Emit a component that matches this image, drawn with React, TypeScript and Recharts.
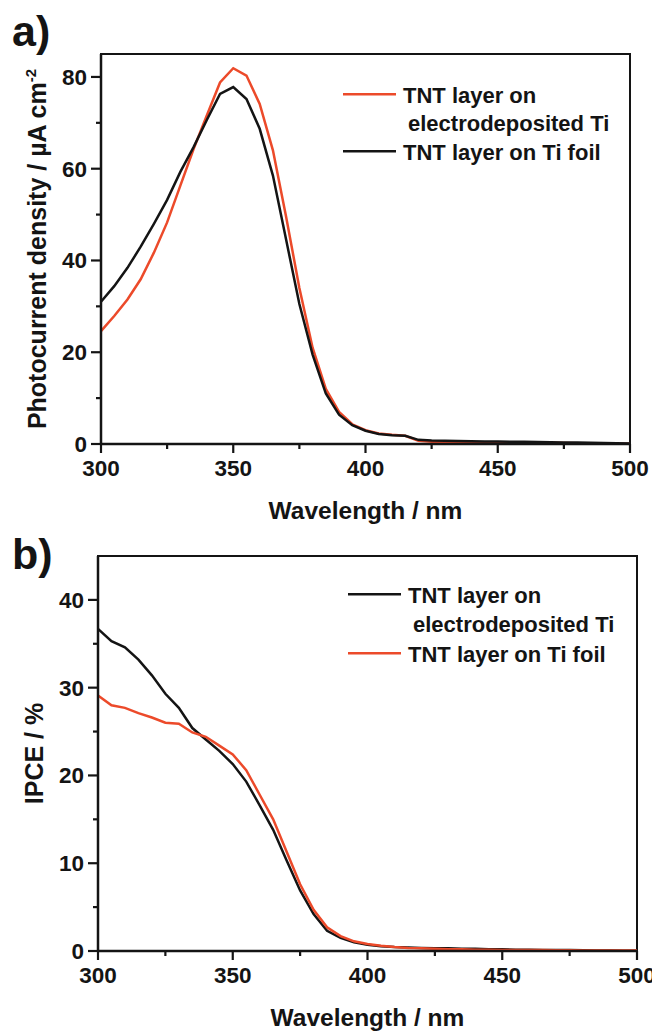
import React from "react";
import { LineChart, Line, XAxis, YAxis, ReferenceArea, Legend, Label } from "recharts";

// shared wavelength grid (nm)
const wavelengths = [
  300, 305, 310, 315, 320, 325, 330, 335, 340, 345, 350, 355, 360, 365, 370, 375, 380, 385, 390, 395, 400,
  405, 410, 415, 420, 425, 430, 435, 440, 445, 450, 455, 460, 465, 470, 475, 480, 485, 490, 495, 500,
];

// a) photocurrent density, µA cm-2
const photoElectro = [
  24.6, 27.9, 31.5, 35.9, 41.7, 48.3, 56.3, 64.3, 71.6, 78.8, 81.9, 80.3, 74.1, 64.0, 49.5, 34.0, 21.0, 12.0, 7.0, 4.3, 3.0,
  2.3, 2.0, 1.8, 0.7, 0.5, 0.45, 0.4, 0.4, 0.35, 0.35, 0.3, 0.3, 0.3, 0.25, 0.2, 0.15, 0.1, 0.1, 0.05, 0.05,
];
const photoFoil = [
  31.0, 34.4, 38.4, 43.0, 48.0, 53.2, 59.3, 64.7, 70.6, 76.3, 77.8, 75.2, 68.7, 58.5, 44.5, 30.5, 19.5, 11.0, 6.4, 4.1, 2.9,
  2.2, 1.9, 1.8, 0.9, 0.75, 0.7, 0.65, 0.6, 0.55, 0.55, 0.5, 0.5, 0.45, 0.4, 0.35, 0.3, 0.25, 0.2, 0.15, 0.1,
];

// b) IPCE, %
const ipceElectro = [
  36.7, 35.3, 34.6, 33.2, 31.4, 29.3, 27.7, 25.4, 24.1, 22.8, 21.3, 19.3, 16.6, 13.8, 10.3, 6.9, 4.2, 2.3, 1.5, 1.0, 0.7,
  0.55, 0.45, 0.4, 0.35, 0.3, 0.3, 0.25, 0.25, 0.2, 0.2, 0.15, 0.15, 0.12, 0.1, 0.1, 0.08, 0.06, 0.05, 0.04, 0.03,
];
const ipceFoil = [
  29.1, 28.0, 27.7, 27.1, 26.6, 26.0, 25.9, 24.9, 24.4, 23.4, 22.4, 20.6, 17.8, 15.0, 11.3, 7.6, 4.7, 2.7, 1.7, 1.1, 0.8,
  0.6, 0.45, 0.35, 0.3, 0.25, 0.2, 0.2, 0.15, 0.15, 0.12, 0.1, 0.1, 0.1, 0.08, 0.08, 0.06, 0.05, 0.05, 0.05, 0.05,
];

const xTicks = [300, 325, 350, 375, 400, 425, 450, 475, 500];
const xTickLabels = [300, 350, 400, 450, 500];
const yTicksA = [0, 10, 20, 30, 40, 50, 60, 70, 80];
const yTickLabelsA = [0, 20, 40, 60, 80];
const yTicksB = [0, 5, 10, 15, 20, 25, 30, 35, 40];
const yTickLabelsB = [0, 10, 20, 30, 40];

const nameElectro = ["TNT layer on", "electrodeposited Ti"];
const nameFoil = ["TNT layer on Ti foil"];

const FONT = "'Liberation Sans', Arial, Helvetica, sans-serif";
const RED = "#ec4a2a";
const INK = "#141414";

const dataA = wavelengths.map((w, i) => ({ wavelength: w, electro: photoElectro[i], foil: photoFoil[i] }));
const dataB = wavelengths.map((w, i) => ({ wavelength: w, electro: ipceElectro[i], foil: ipceFoil[i] }));

const makeXTick = (labels: number[]) => (props: any) => {
  const { x, y, payload } = props;
  const major = labels.includes(payload.value);
  return (
    <g>
      <line x1={x} x2={x} y1={y} y2={y + (major ? 9 : 5)} stroke={INK} strokeWidth={2.2} />
      {major && (
        <text x={x} y={y + 32} textAnchor="middle" fontSize={22.5} fontWeight="bold" fontFamily={FONT} fill={INK}>
          {payload.value}
        </text>
      )}
    </g>
  );
};

const makeYTick = (labels: number[]) => (props: any) => {
  const { x, y, payload } = props;
  const major = labels.includes(payload.value);
  return (
    <g>
      <line x1={x - (major ? 10 : 5)} x2={x} y1={y} y2={y} stroke={INK} strokeWidth={2.2} />
      {major && (
        <text x={x - 14} y={y + 8} textAnchor="end" fontSize={22.5} fontWeight="bold" fontFamily={FONT} fill={INK}>
          {payload.value}
        </text>
      )}
    </g>
  );
};

const xTitle = (props: any) => {
  const vb = props.viewBox;
  return (
    <text x={vb.x + vb.width / 2} y={vb.y + 75} textAnchor="middle" fontSize={24.5} fontWeight="bold" fontFamily={FONT} fill={INK}>
      Wavelength / nm
    </text>
  );
};

const yTitle = (text: string, sup?: string) => (props: any) => {
  const vb = props.viewBox;
  const cx = vb.x + vb.width - 55;
  const cy = vb.y + vb.height / 2;
  return (
    <text x={cx} y={cy} transform={`rotate(-90, ${cx}, ${cy})`} textAnchor="middle" fontSize={25} fontWeight="bold" fontFamily={FONT} fill={INK}>
      {text}
      {sup && (
        <tspan dy={-10} fontSize={15}>
          {sup}
        </tspan>
      )}
    </text>
  );
};

type LegendItem = { color: string; lines: string[] };

function LegendBox({ items, rowGap }: { items: LegendItem[]; rowGap: number }) {
  let row = 0;
  return (
    <svg width={310} height={100} style={{ display: "block", overflow: "visible" }}>
      {items.map((it, i) => {
        const base = 22.7 + rowGap * row;
        const el = (
          <g key={i}>
            <line x1={3} x2={56} y1={base - 8.5} y2={base - 8.5} stroke={it.color} strokeWidth={2.6} />
            {it.lines.map((t, j) => (
              <text key={j} x={j === 0 ? 63 : 68} y={base + rowGap * j} fontSize={22} fontWeight="bold" fontFamily={FONT} fill={INK}>
                {t}
              </text>
            ))}
          </g>
        );
        row += it.lines.length;
        return el;
      })}
    </svg>
  );
}

function PanelA() {
  return (
    <LineChart width={652} height={530} data={dataA} margin={{ top: 54, right: 22, left: 41, bottom: 26 }}>
      <ReferenceArea x1={300} x2={500} y1={0} y2={85} fill="none" stroke={INK} strokeWidth={2} />
      <XAxis
        dataKey="wavelength"
        type="number"
        domain={[300, 500]}
        ticks={xTicks}
        interval={0}
        tickSize={0}
        tickMargin={0}
        tickLine={false}
        height={60}
        axisLine={{ stroke: INK, strokeWidth: 2.5 }}
        tick={makeXTick(xTickLabels)}
      >
        <Label content={xTitle} />
      </XAxis>
      <YAxis
        type="number"
        domain={[0, 85]}
        ticks={yTicksA}
        interval={0}
        tickSize={0}
        tickMargin={0}
        tickLine={false}
        width={60}
        axisLine={{ stroke: INK, strokeWidth: 2.5 }}
        tick={makeYTick(yTickLabelsA)}
      >
        <Label content={yTitle("Photocurrent density / µA cm", "-2")} />
      </YAxis>
      <Line type="linear" dataKey="electro" stroke={RED} strokeWidth={2.5} dot={false} isAnimationActive={false} />
      <Line type="linear" dataKey="foil" stroke={INK} strokeWidth={2.5} dot={false} isAnimationActive={false} />
      <Legend
        layout="vertical"
        align="center"
        verticalAlign="middle"
        wrapperStyle={{ left: 340, top: 80, width: 310, height: 100 }}
        content={() => (
          <LegendBox
            rowGap={28.5}
            items={[
              { color: RED, lines: nameElectro },
              { color: INK, lines: nameFoil },
            ]}
          />
        )}
      />
    </LineChart>
  );
}

function PanelB() {
  return (
    <LineChart width={652} height={511} data={dataB} margin={{ top: 36, right: 15, left: 38, bottom: 20 }}>
      <ReferenceArea x1={300} x2={500} y1={0} y2={45} fill="none" stroke={INK} strokeWidth={2} />
      <XAxis
        dataKey="wavelength"
        type="number"
        domain={[300, 500]}
        ticks={xTicks}
        interval={0}
        tickSize={0}
        tickMargin={0}
        tickLine={false}
        height={60}
        axisLine={{ stroke: INK, strokeWidth: 2.5 }}
        tick={makeXTick(xTickLabels)}
      >
        <Label content={xTitle} />
      </XAxis>
      <YAxis
        type="number"
        domain={[0, 45]}
        ticks={yTicksB}
        interval={0}
        tickSize={0}
        tickMargin={0}
        tickLine={false}
        width={60}
        axisLine={{ stroke: INK, strokeWidth: 2.5 }}
        tick={makeYTick(yTickLabelsB)}
      >
        <Label content={yTitle("IPCE / %")} />
      </YAxis>
      <Line type="linear" dataKey="electro" stroke={INK} strokeWidth={2.5} dot={false} isAnimationActive={false} />
      <Line type="linear" dataKey="foil" stroke={RED} strokeWidth={2.5} dot={false} isAnimationActive={false} />
      <Legend
        layout="vertical"
        align="center"
        verticalAlign="middle"
        wrapperStyle={{ left: 345, top: 60, width: 310, height: 100 }}
        content={() => (
          <LegendBox
            rowGap={29.5}
            items={[
              { color: INK, lines: nameElectro },
              { color: RED, lines: nameFoil },
            ]}
          />
        )}
      />
    </LineChart>
  );
}

const panelLetter: React.CSSProperties = {
  position: "absolute",
  left: 12,
  fontFamily: FONT,
  fontWeight: "bold",
  fontSize: 43,
  lineHeight: "43px",
  color: INK,
};

export default function App() {
  return (
    <div style={{ position: "absolute", left: 0, top: 0, width: 652, height: 1031, background: "#fff", overflow: "hidden" }}>
      <div style={{ position: "absolute", left: 0, top: 0 }}>
        <PanelA />
      </div>
      <div style={{ position: "absolute", left: 0, top: 520 }}>
        <PanelB />
      </div>
      <div style={{ ...panelLetter, top: 10 }}>a)</div>
      <div style={{ ...panelLetter, top: 533 }}>b)</div>
    </div>
  );
}
